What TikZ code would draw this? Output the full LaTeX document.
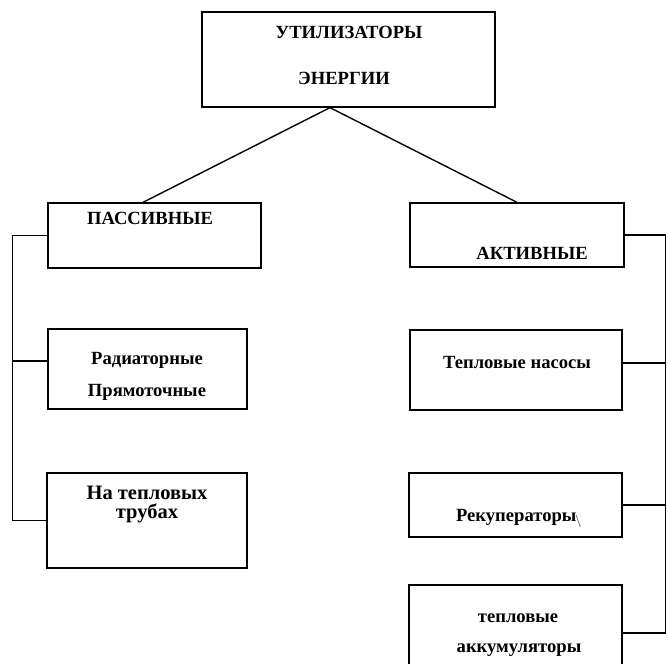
\documentclass[tikz,border=0pt]{standalone}
\usepackage{fontspec}
\setmainfont{Liberation Serif}
\usepackage{tikz}
\usetikzlibrary{positioning, calc}

\begin{document}
\begin{tikzpicture}[x=1pt, y=-1pt,
        box/.style={draw, line width=1.3pt, rectangle, inner sep=0pt},
        lbl/.style={draw=none, inner sep=1pt, font=\bfseries\fontsize{18.6}{20}\selectfont},
        big/.style={lbl, font=\bfseries\fontsize{20.5}{22}\selectfont},
        link/.style={line width=1.4pt}]
        \useasboundingbox (0,0) rectangle (668,663);
        \clip (0,0) rectangle (668,663);

        % верхний блок
        \node[box, minimum width=293pt, minimum height=95pt] (top) at (348.5,59.5) {};
        \node[lbl] (t1) at (349,32) {УТИЛИЗАТОРЫ};
        \node[lbl] (t2) at (344,78) {ЭНЕРГИИ};
        \coordinate (apex) at ([xshift=-18.5pt]top.south);

        % пассивные
        \node[box, minimum width=213pt, minimum height=65pt] (passive) at (154.5,235.5) {};
        \node[lbl] (p1) at (150,218) {ПАССИВНЫЕ};
        \node[box, minimum width=199pt, minimum height=80pt] (rad) at (147.5,369) {};
        \node[lbl] (r1) at (147,360) {Радиаторные};
        \node[lbl] (r2) at (147,392) {Прямоточные};
        \node[box, minimum width=200pt, minimum height=95pt] (pipes) at (147,520.5) {};
        \node[big] (h1) at (147,493) {На тепловых};
        \node[big] (h2) at (147,513) {трубах};

        % активные
        \node[box, minimum width=214pt, minimum height=64pt] (active) at (517,235) {};
        \node[lbl] (a1) at (532,253) {АКТИВНЫЕ};
        \node[box, minimum width=212pt, minimum height=80pt] (pumps) at (516,370) {};
        \node[lbl] (n1) at (517,362) {Тепловые насосы};
        \node[box, minimum width=213pt, minimum height=64pt] (recup) at (515.5,505) {};
        \node[lbl] (k1) at (519,518) {Рекуператоры\kern-1pt$_{\backslash}$};
        \node[box, minimum width=213pt, minimum height=96pt] (accum) at (515.5,633) {};
        \node[lbl] (s1) at (518,618) {тепловые};
        \node[lbl] (s2) at (519,650) {аккумуляторы};

        % связи
        \draw[link] (apex) -- ([xshift=-11.5pt]passive.north);
        \draw[link] (apex) -- (active.north);

        \draw[link] (passive.west) -- ++(-35,0) coordinate (lb) |- (pipes.west);
        \draw[link] ([yshift=8pt]rad.west) -- ++(-35,0);

        \draw[link] (active.east) -- ++(41,0) coordinate (rb) |- (accum.east);
        \draw[link] ([yshift=7pt]pumps.east) -- ++(43,0);
        \draw[link] (recup.east) -- ++(43,0);
    \end{tikzpicture}
\end{document}
